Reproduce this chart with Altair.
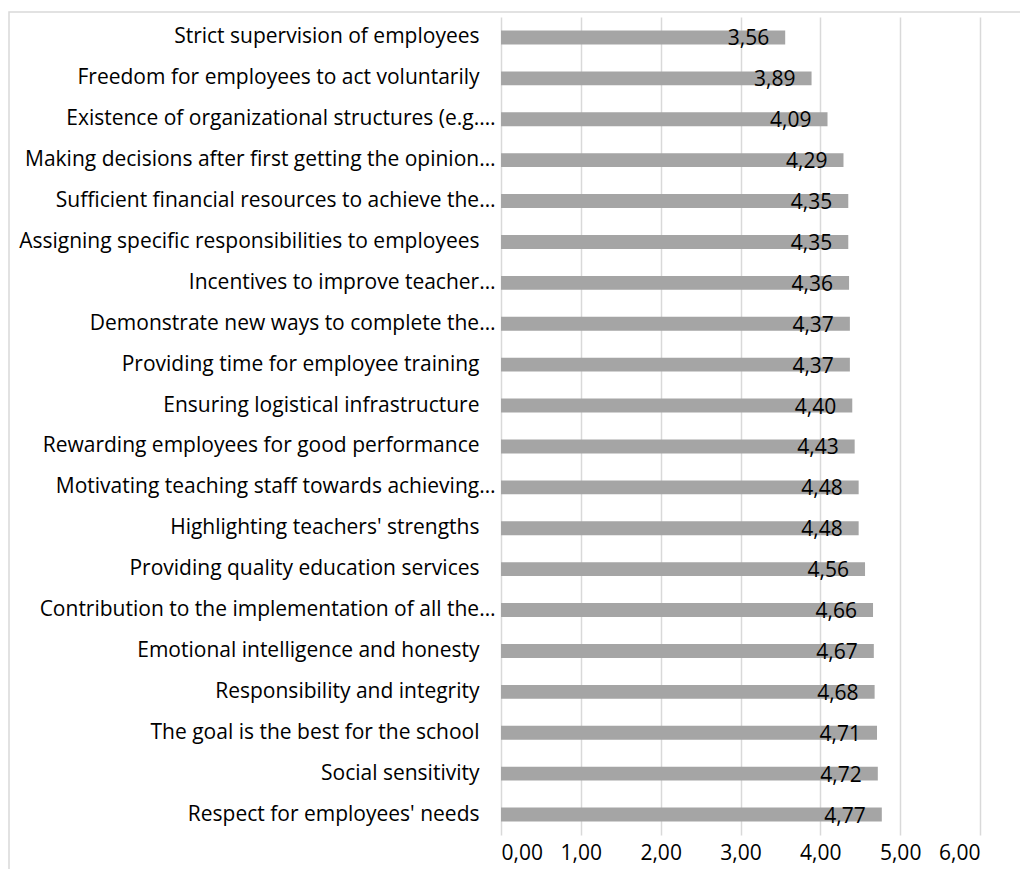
import altair as alt
import pandas as pd

categories = [
    "Strict supervision of employees",
    "Freedom for employees to act voluntarily",
    "Existence of organizational structures (e.g.…",
    "Making decisions after first getting the opinion…",
    "Sufficient financial resources to achieve the…",
    "Assigning specific responsibilities to employees",
    "Incentives to improve teacher…",
    "Demonstrate new ways to complete the…",
    "Providing time for employee training",
    "Ensuring logistical infrastructure",
    "Rewarding employees for good performance",
    "Motivating teaching staff towards achieving…",
    "Highlighting teachers' strengths",
    "Providing quality education services",
    "Contribution to the implementation of all the…",
    "Emotional intelligence and honesty",
    "Responsibility and integrity",
    "The goal is the best for the school",
    "Social sensitivity",
    "Respect for employees' needs",
]
values = [3.56, 3.89, 4.09, 4.29, 4.35, 4.35, 4.36, 4.37, 4.37, 4.40,
          4.43, 4.48, 4.48, 4.56, 4.66, 4.67, 4.68, 4.71, 4.72, 4.77]
x_ticks = [0, 1, 2, 3, 4, 5, 6]

df = pd.DataFrame({"cat": categories, "val": values})

FONT = "Open Sans"
FS = 21
PLOT_W = 479
PLOT_H = 818

yenc = alt.Y(
    "cat:N", sort=None, title=None,
    axis=alt.Axis(
        labelFont=FONT, labelFontSize=FS, labelColor="#000000",
        labelPadding={"condition": {"test": "indexof(datum.label, '…') >= 0", "value": 6}, "value": 22},
        ticks=False, domain=False, labelLimit=600,
    ),
    scale=alt.Scale(paddingInner=0.66, paddingOuter=0.33),
)
xenc = alt.X(
    "val:Q", title=None,
    scale=alt.Scale(domain=[0, 6], nice=False),
    axis=alt.Axis(
        values=x_ticks, labelFont=FONT, labelFontSize=FS, labelColor="#000000",
        labelPadding=7, ticks=False, domain=False,
        grid=True, gridColor="#D9D9D9", gridWidth=1.5,
        labelExpr="replace(format(datum.value, '.2f'), '.', ',')",
    ),
)

frame = alt.Chart(pd.DataFrame({"k": [0]})).mark_rect(
    fill=None, stroke="#D9D9D9", strokeWidth=1.5
).encode(
    x=alt.value(-492), x2=alt.value(PLOT_W + 200),
    y=alt.value(-5), y2=alt.value(PLOT_H + 200),
)

bars = alt.Chart(df).mark_bar(color="#A5A5A5").encode(y=yenc, x=xenc)

labels = alt.Chart(df).transform_calculate(
    lab="replace(format(datum.val, '.2f'), '.', ',')"
).mark_text(
    align="right", baseline="middle", dx=-16, dy=2,
    font=FONT, fontSize=FS, color="#000000"
).encode(y=alt.Y("cat:N", sort=None), x="val:Q", text="lab:N")

chart = alt.layer(frame, bars, labels).properties(
    width=PLOT_W, height=PLOT_H,
    autosize=alt.AutoSizeParams(type="none"),
    padding={"left": 493, "top": 9, "right": 40, "bottom": 34},
).configure_view(stroke=None)

chart.save("out.html", embed_options={"renderer": "svg", "actions": False})
